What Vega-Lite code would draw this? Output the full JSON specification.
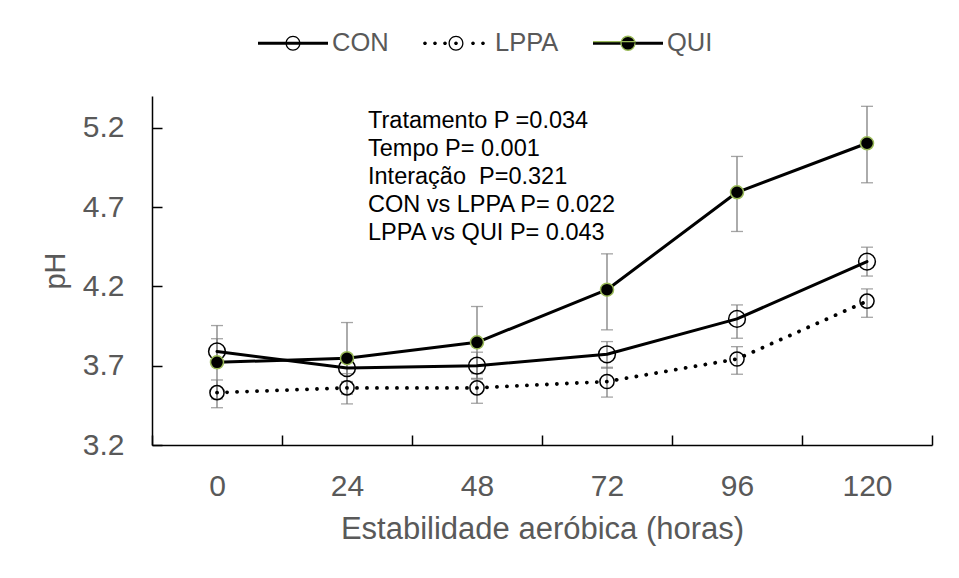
{
  "$schema": "https://vega.github.io/schema/vega-lite/v6.json",
  "width": 780,
  "height": 349,
  "autosize": {"type": "none"},
  "padding": {"left": 152, "top": 96, "right": 27, "bottom": 133},
  "background": "white",
  "config": {
    "view": {"stroke": null},
    "font": "Liberation Sans",
    "axis": {
      "labelFont": "Liberation Sans",
      "labelFontSize": 30,
      "labelColor": "#595959",
      "titleFont": "Liberation Sans",
      "titleColor": "#595959",
      "titleFontWeight": "normal",
      "domainColor": "#000000",
      "domainWidth": 1.5,
      "tickColor": "#000000",
      "tickWidth": 1.5,
      "tickSize": -10,
      "grid": false
    },
    "axisX": {"labelAngle": 0, "tickBand": "extent", "labelPadding": 36, "titlePadding": 13, "titleFontSize": 31},
    "axisY": {"labelPadding": 38, "titleFontSize": 29, "titlePadding": 12}
  },
  "data": {
    "values": [
      {"series": "CON", "h": 0, "ph": 3.79, "lo": 3.71, "hi": 3.87},
      {"series": "CON", "h": 24, "ph": 3.685, "lo": 3.6, "hi": 3.77},
      {"series": "CON", "h": 48, "ph": 3.7, "lo": 3.615, "hi": 3.785},
      {"series": "CON", "h": 72, "ph": 3.772, "lo": 3.684, "hi": 3.852},
      {"series": "CON", "h": 96, "ph": 3.995, "lo": 3.873, "hi": 4.083},
      {"series": "CON", "h": 120, "ph": 4.356, "lo": 4.265, "hi": 4.447},
      {"series": "LPPA", "h": 0, "ph": 3.53, "lo": 3.435, "hi": 3.61},
      {"series": "LPPA", "h": 24, "ph": 3.56, "lo": 3.459, "hi": 3.65},
      {"series": "LPPA", "h": 48, "ph": 3.56, "lo": 3.463, "hi": 3.65},
      {"series": "LPPA", "h": 72, "ph": 3.6, "lo": 3.502, "hi": 3.69},
      {"series": "LPPA", "h": 96, "ph": 3.742, "lo": 3.646, "hi": 3.82},
      {"series": "LPPA", "h": 120, "ph": 4.107, "lo": 4.005, "hi": 4.184},
      {"series": "QUI", "h": 0, "ph": 3.721, "lo": 3.49, "hi": 3.953},
      {"series": "QUI", "h": 24, "ph": 3.747, "lo": 3.52, "hi": 3.972},
      {"series": "QUI", "h": 48, "ph": 3.847, "lo": 3.62, "hi": 4.073},
      {"series": "QUI", "h": 72, "ph": 4.179, "lo": 3.926, "hi": 4.405},
      {"series": "QUI", "h": 96, "ph": 4.793, "lo": 4.546, "hi": 5.019},
      {"series": "QUI", "h": 120, "ph": 5.102, "lo": 4.853, "hi": 5.335}
    ]
  },
  "layer": [
    {
      "mark": {"type": "rule", "color": "#7f7f7f", "strokeWidth": 1.3},
      "encoding": {
        "x": {"field": "h", "type": "ordinal", "title": "Estabilidade aeróbica (horas)", "scale": {"type": "band", "paddingInner": 0, "paddingOuter": 0}},
        "y": {"field": "lo", "type": "quantitative", "title": "pH", "scale": {"domain": [3.2, 5.4], "nice": false, "zero": false}, "axis": {"values": [3.2, 3.7, 4.2, 4.7, 5.2], "format": ".1f"}},
        "y2": {"field": "hi"}
      }
    },
    {
      "mark": {"type": "tick", "color": "#7f7f7f", "thickness": 1.3, "size": 12},
      "encoding": {
        "x": {"field": "h", "type": "ordinal", "title": "Estabilidade aeróbica (horas)"},
        "y": {"field": "lo", "type": "quantitative", "title": "pH"}
      }
    },
    {
      "mark": {"type": "tick", "color": "#7f7f7f", "thickness": 1.3, "size": 12},
      "encoding": {
        "x": {"field": "h", "type": "ordinal", "title": "Estabilidade aeróbica (horas)"},
        "y": {"field": "hi", "type": "quantitative", "title": "pH"}
      }
    },
    {
      "transform": [{"filter": "datum.series === 'CON'"}],
      "mark": {"type": "line", "color": "#000000", "strokeWidth": 3, "strokeCap": "round", "strokeJoin": "round"},
      "encoding": {
        "x": {"field": "h", "type": "ordinal", "title": "Estabilidade aeróbica (horas)"},
        "y": {"field": "ph", "type": "quantitative", "title": "pH"}
      }
    },
    {
      "transform": [{"filter": "datum.series === 'LPPA'"}],
      "mark": {"type": "line", "color": "#000000", "strokeWidth": 3.8, "strokeCap": "round", "strokeDash": [0.1, 9.9]},
      "encoding": {
        "x": {"field": "h", "type": "ordinal", "title": "Estabilidade aeróbica (horas)"},
        "y": {"field": "ph", "type": "quantitative", "title": "pH"}
      }
    },
    {
      "transform": [{"filter": "datum.series === 'QUI'"}],
      "mark": {"type": "line", "color": "#000000", "strokeWidth": 3, "strokeCap": "round", "strokeJoin": "round"},
      "encoding": {
        "x": {"field": "h", "type": "ordinal", "title": "Estabilidade aeróbica (horas)"},
        "y": {"field": "ph", "type": "quantitative", "title": "pH"}
      }
    },
    {
      "transform": [{"filter": "datum.series === 'CON'"}],
      "mark": {"type": "point", "shape": "circle", "filled": false, "stroke": "#000000", "strokeWidth": 1.5, "size": 280, "opacity": 1},
      "encoding": {
        "x": {"field": "h", "type": "ordinal", "title": "Estabilidade aeróbica (horas)"},
        "y": {"field": "ph", "type": "quantitative", "title": "pH"}
      }
    },
    {
      "transform": [{"filter": "datum.series === 'LPPA'"}],
      "mark": {"type": "point", "shape": "circle", "filled": false, "stroke": "#000000", "strokeWidth": 1.5, "size": 200, "opacity": 1},
      "encoding": {
        "x": {"field": "h", "type": "ordinal", "title": "Estabilidade aeróbica (horas)"},
        "y": {"field": "ph", "type": "quantitative", "title": "pH"}
      }
    },
    {
      "transform": [{"filter": "datum.series === 'QUI'"}],
      "mark": {"type": "point", "shape": "circle", "filled": true, "fill": "#000000", "stroke": "#9BBB59", "strokeWidth": 1.5, "size": 170, "opacity": 1},
      "encoding": {
        "x": {"field": "h", "type": "ordinal", "title": "Estabilidade aeróbica (horas)"},
        "y": {"field": "ph", "type": "quantitative", "title": "pH"}
      }
    },
    {
      "data": {"values": [{"h": 24, "y": 5.2, "txt": "Tratamento P =0.034\nTempo P= 0.001\nInteração\u00a0 P=0.321\nCON vs LPPA P= 0.022\nLPPA vs QUI P= 0.043"}]},
      "mark": {"type": "text", "align": "left", "baseline": "alphabetic", "dx": 21, "fontSize": 23.5, "lineHeight": 28, "lineBreak": "\n", "color": "#000000", "font": "Liberation Sans"},
      "encoding": {
        "x": {"field": "h", "type": "ordinal", "title": "Estabilidade aeróbica (horas)"},
        "y": {"field": "y", "type": "quantitative", "title": "pH"},
        "text": {"field": "txt"}
      }
    },
    {
      "mark": {"type": "point", "filled": true, "opacity": 0, "strokeWidth": 1.3},
      "encoding": {
        "x": {"field": "h", "type": "ordinal", "title": "Estabilidade aeróbica (horas)"},
        "y": {"field": "ph", "type": "quantitative", "title": "pH"},
        "fill": {"field": "series", "type": "nominal", "scale": {"domain": ["CON", "LPPA", "QUI"], "range": ["#000000", "#000000", "#000000"]}, "legend": {"title": null}},
        "stroke": {"field": "series", "type": "nominal", "scale": {"domain": ["CON", "LPPA", "QUI"], "range": ["transparent", "transparent", "#9BBB59"]}, "legend": {"title": null}},
        "strokeDash": {"field": "series", "type": "nominal", "scale": {"domain": ["CON", "LPPA", "QUI"], "range": [[1, 0], [1, 0], [43, 3000]]}, "legend": {"title": null}},
        "shape": {
          "field": "series", "type": "nominal",
          "scale": {"domain": ["CON", "LPPA", "QUI"], "range": [
            "M-1,-0.046L1,-0.046L1,0.046L-1,0.046ZM0.214,0A0.214,0.214,0,1,1,-0.214,0A0.214,0.214,0,1,1,0.214,0ZM0.177,0A0.177,0.177,0,1,0,-0.177,0A0.177,0.177,0,1,0,0.177,0Z",
            "M0.214,0A0.214,0.214,0,1,1,-0.214,0A0.214,0.214,0,1,1,0.214,0ZM0.177,0A0.177,0.177,0,1,0,-0.177,0A0.177,0.177,0,1,0,0.177,0ZM-0.833,0A0.053,0.053,0,1,1,-0.939,0A0.053,0.053,0,1,1,-0.833,0ZM-0.547,0A0.053,0.053,0,1,1,-0.653,0A0.053,0.053,0,1,1,-0.547,0ZM-0.261,0A0.053,0.053,0,1,1,-0.367,0A0.053,0.053,0,1,1,-0.261,0ZM0.053,0A0.053,0.053,0,1,1,-0.053,0A0.053,0.053,0,1,1,0.053,0ZM0.539,0A0.053,0.053,0,1,1,0.433,0A0.053,0.053,0,1,1,0.539,0ZM0.824,0A0.053,0.053,0,1,1,0.718,0A0.053,0.053,0,1,1,0.824,0Z",
            "M0.2,0A0.2,0.2,0,1,1,-0.2,0A0.2,0.2,0,1,1,0.2,0ZM-1,-0.046L1,-0.046L1,0.046L-1,0.046Z"
          ]},
          "legend": {
            "title": null,
            "orient": "none",
            "legendX": 105,
            "legendY": -89,
            "direction": "horizontal",
            "padding": 0,
            "symbolSize": 4900,
            "symbolOpacity": 1,
            "symbolStrokeWidth": 1.3,
            "labelOffset": 3,
            "columnPadding": 31,
            "labelFont": "Liberation Sans",
            "labelFontSize": 25.5,
            "labelColor": "#595959",
            "encode": {"symbols": {"opacity": {"value": 1}}}
          }
        }
      }
    }
  ]
}
